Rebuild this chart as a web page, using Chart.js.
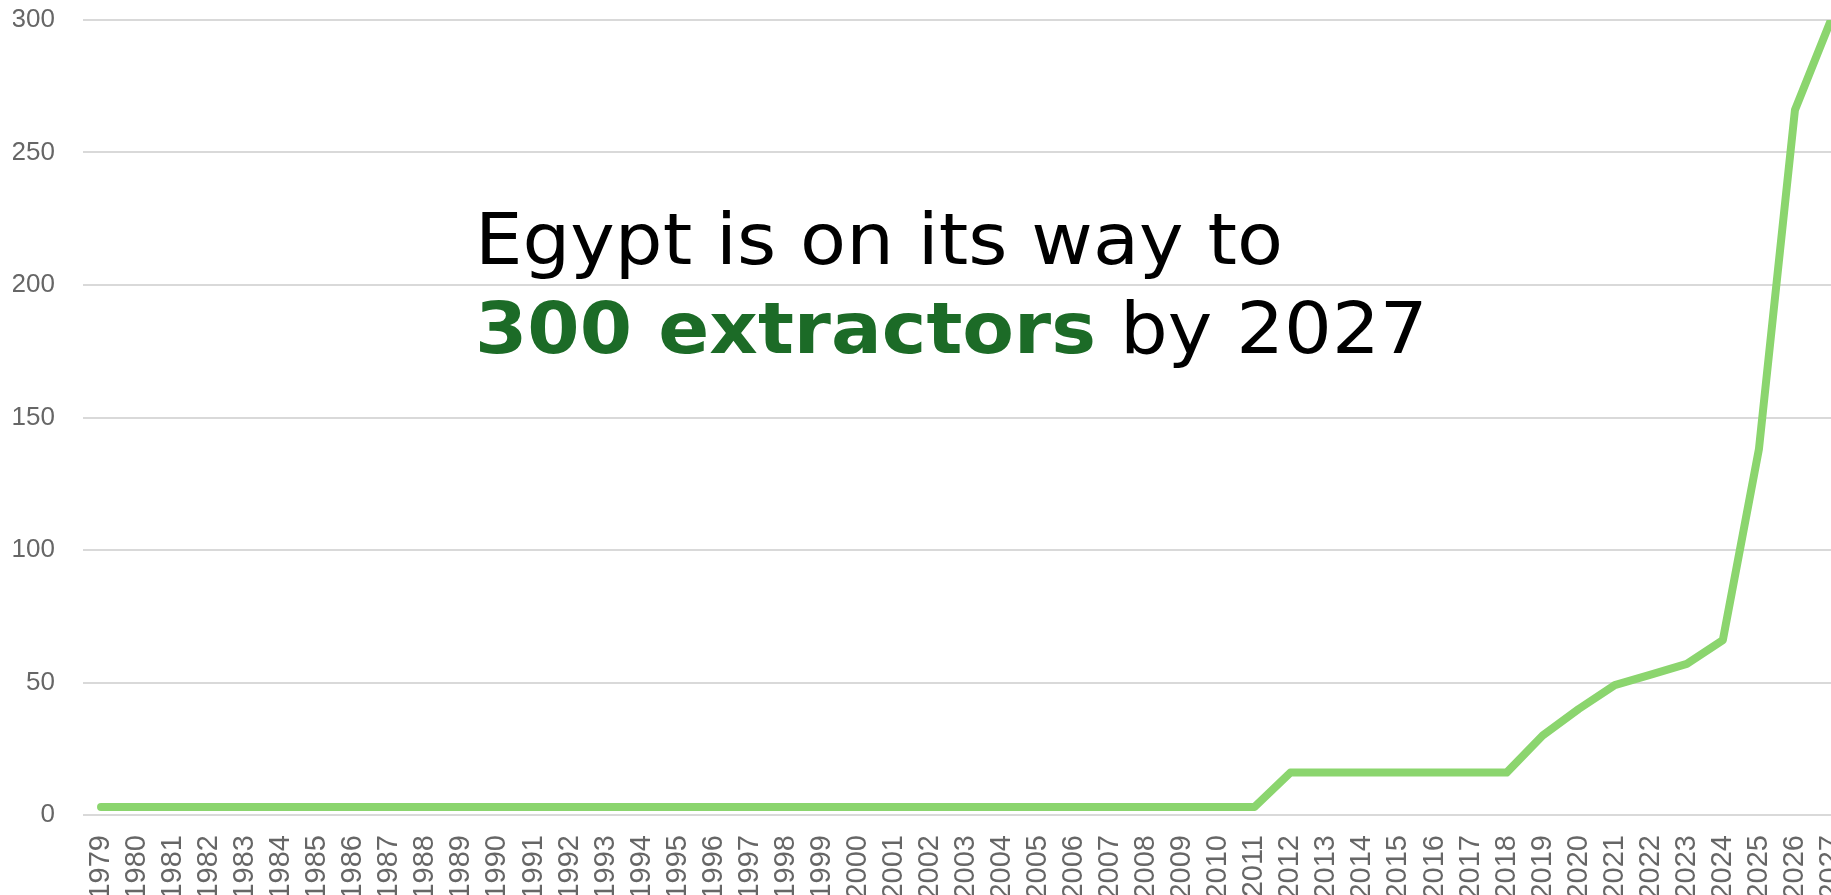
<!DOCTYPE html>
<html>
<head>
<meta charset="utf-8">
<script src="https://cdn.jsdelivr.net/npm/chart.js@4.4.1/dist/chart.umd.min.js"></script>
<style>
  html, body { margin: 0; padding: 0; background: #fff; overflow: hidden; }
  #wrap { position: relative; width: 1831px; height: 895px; overflow: hidden; }
  #chart { position: absolute; left: 0; top: 0; }
  #headline {
    position: absolute; left: 475px; top: 195px;
    font-family: "DejaVu Sans", sans-serif; font-size: 71px; line-height: 89px;
    color: #000; white-space: nowrap;
    transform: scaleX(1.06); transform-origin: 0 0;
  }
  #headline b { color: #1c6b27; }
</style>
</head>
<body>
<div id="wrap">
  <canvas id="chart" width="1849" height="895"></canvas>
  <div id="headline">Egypt is on its way to<br><b>300 extractors</b> by 2027</div>
</div>
<script>
const years = [];
for (let y = 1979; y <= 2027; y++) years.push(String(y));

// number of extractors per year
const extractors = [
  3, 3, 3, 3, 3, 3, 3, 3, 3, 3,      // 1979-1988
  3, 3, 3, 3, 3, 3, 3, 3, 3, 3,      // 1989-1998
  3, 3, 3, 3, 3, 3, 3, 3, 3, 3,      // 1999-2008
  3, 3, 3,                           // 2009-2011
  16, 16, 16, 16, 16, 16, 16,        // 2012-2018
  30, 40, 49, 53, 57, 66,            // 2019-2024
  138, 266, 300                      // 2025-2027
];

const yTicks = [0, 50, 100, 150, 200, 250, 300];

const ctx = document.getElementById('chart');
const chart = new Chart(ctx, {
  type: 'line',
  data: {
    labels: years,
    datasets: [{
      label: 'Extractors',
      data: extractors,
      borderColor: '#8bd56e',
      borderWidth: 8,
      tension: 0,
      pointRadius: 0,
      borderCapStyle: 'round',
      borderJoinStyle: 'round',
      fill: false
    }]
  },
  options: {
    responsive: false,
    animation: false,
    devicePixelRatio: 1,
    layout: { padding: { left: 13, top: 20, right: 0, bottom: 0 } },
    plugins: {
      legend: { display: false },
      tooltip: { enabled: false }
    },
    scales: {
      x: {
        offset: true,
        grid: { display: false },
        border: { display: false },
        afterFit: axis => {
          axis.height = 80;
          axis.paddingLeft = axis.paddingRight = 0;
        },
        ticks: {
          autoSkip: false,
          minRotation: 90,
          maxRotation: 90,
          padding: 12,
          color: '#666',
          font: { family: 'Liberation Sans, Arial, sans-serif', size: 29 }
        }
      },
      y: {
        min: 0,
        max: 300,
        afterBuildTicks: axis => { axis.ticks = yTicks.map(v => ({ value: v })); },
        afterFit: axis => {
          axis.width = 70;
          axis.paddingTop = axis.paddingBottom = 0;
        },
        grid: { color: '#d9d9d9', lineWidth: 2, drawTicks: false },
        border: { display: false },
        ticks: {
          padding: 28,
          color: '#666',
          font: { family: 'Liberation Sans, Arial, sans-serif', size: 26 }
        }
      }
    }
  }
});
</script>
</body>
</html>
